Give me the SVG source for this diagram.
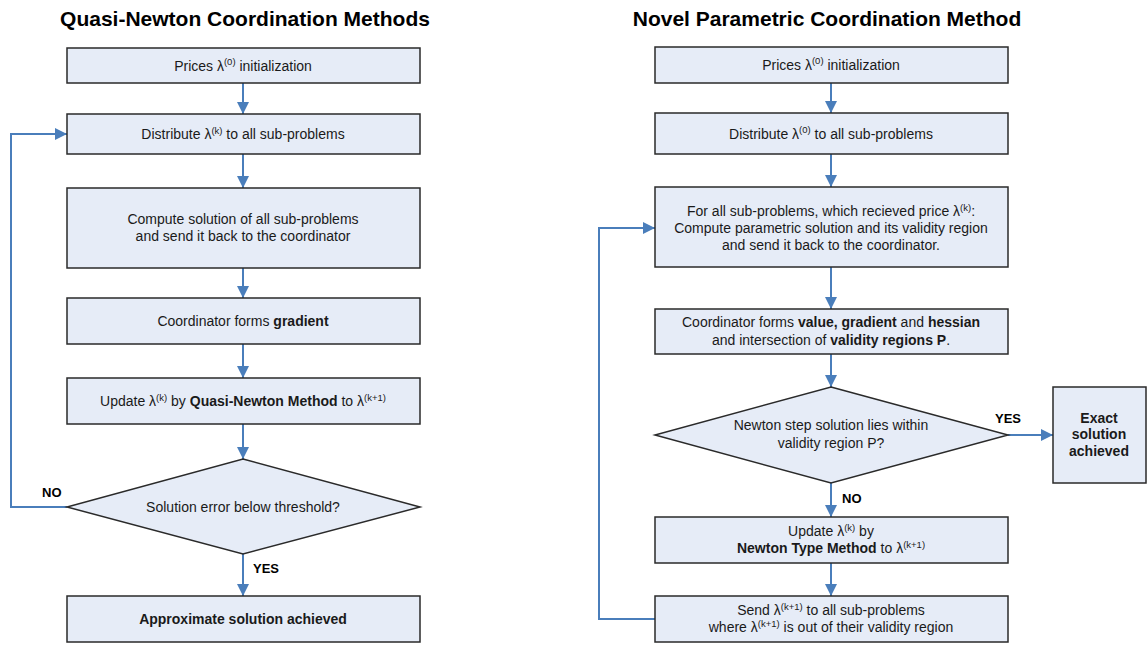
<svg xmlns="http://www.w3.org/2000/svg" width="1148" height="646" viewBox="0 0 1148 646">
<defs>
<style>
.box{fill:#e6ecf7;stroke:#2a2a2a;stroke-width:1.5}
.t{font-family:"Liberation Sans",Arial,sans-serif;font-size:14px;fill:#1a1a1a;text-anchor:middle}
.b{font-weight:bold}
.title{font-family:"Liberation Sans",Arial,sans-serif;font-size:21px;font-weight:bold;fill:#000;text-anchor:middle}
.lbl{font-family:"Liberation Sans",Arial,sans-serif;font-size:13px;font-weight:bold;fill:#000}
.ex{font-family:"Liberation Sans",Arial,sans-serif;font-size:14px;font-weight:bold;fill:#1a1a1a;text-anchor:middle}
.c{fill:none;stroke:#4a7ebb;stroke-width:2}
.sup{font-size:9.5px}
</style>
<marker id="ah" viewBox="0 0 10 10" refX="10" refY="5" markerWidth="6" markerHeight="6" markerUnits="strokeWidth" orient="auto">
<path d="M0,0 L10,5 L0,10 z" fill="#4a7ebb"/>
</marker>
</defs>
<rect width="1148" height="646" fill="#fff"/>

<text class="title" x="245" y="26">Quasi-Newton Coordination Methods</text>
<text class="title" x="827" y="26">Novel Parametric Coordination Method</text>

<g id="connectors">
<path class="c" d="M243,83 V114" marker-end="url(#ah)"/>
<path class="c" d="M243,154 V188" marker-end="url(#ah)"/>
<path class="c" d="M243,268 V298" marker-end="url(#ah)"/>
<path class="c" d="M243,344 V378" marker-end="url(#ah)"/>
<path class="c" d="M243,424 V459" marker-end="url(#ah)"/>
<path class="c" d="M243,554 V596" marker-end="url(#ah)"/>
<path class="c" d="M67,507 H11 V134 H67" marker-end="url(#ah)"/>
<path class="c" d="M831,83 V113" marker-end="url(#ah)"/>
<path class="c" d="M831,154 V187" marker-end="url(#ah)"/>
<path class="c" d="M831,267 V309" marker-end="url(#ah)"/>
<path class="c" d="M831,354 V387" marker-end="url(#ah)"/>
<path class="c" d="M831,483 V517" marker-end="url(#ah)"/>
<path class="c" d="M831,563 V596" marker-end="url(#ah)"/>
<path class="c" d="M1008,435 H1053" marker-end="url(#ah)"/>
<path class="c" d="M655,619 H599 V228 H655" marker-end="url(#ah)"/>
<text class="lbl" x="42" y="497">NO</text>
<text class="lbl" x="253" y="573">YES</text>
<text class="lbl" x="995" y="423">YES</text>
<text class="lbl" x="842" y="503">NO</text>
</g>

<g id="l1"><rect class="box" x="67" y="48" width="353" height="35"/>
<text class="t" x="243" y="70.5">Prices λ<tspan class="sup" dy="-5.5">(0)</tspan><tspan dy="5.5"> initialization</tspan></text></g>
<g id="l2"><rect class="box" x="67" y="114" width="353" height="40"/>
<text class="t" x="243" y="139">Distribute λ<tspan class="sup" dy="-5.5">(k)</tspan><tspan dy="5.5"> to all sub-problems</tspan></text></g>
<g id="l3"><rect class="box" x="67" y="188" width="353" height="80"/>
<text class="t" x="243" y="224">Compute solution of all sub-problems</text>
<text class="t" x="243" y="241">and send it back to the coordinator</text></g>
<g id="l4"><rect class="box" x="67" y="298" width="353" height="46"/>
<text class="t" x="243" y="326">Coordinator forms <tspan class="b">gradient</tspan></text></g>
<g id="l5"><rect class="box" x="67" y="378" width="353" height="46"/>
<text class="t" x="243" y="406">Update λ<tspan class="sup" dy="-5.5">(k)</tspan><tspan dy="5.5"> by </tspan><tspan class="b">Quasi-Newton Method</tspan> to λ<tspan class="sup" dy="-5.5">(k+1)</tspan></text></g>
<g id="l6"><path class="box" d="M243,459 L420,507 L243,554 L67,507 z"/>
<text class="t" x="243" y="512">Solution error below threshold?</text></g>
<g id="l7"><rect class="box" x="67" y="596" width="353" height="46"/>
<text class="t b" x="243" y="624">Approximate solution achieved</text></g>

<g id="r1"><rect class="box" x="655" y="47" width="353" height="36"/>
<text class="t" x="831" y="69.5">Prices λ<tspan class="sup" dy="-5.5">(0)</tspan><tspan dy="5.5"> initialization</tspan></text></g>
<g id="r2"><rect class="box" x="655" y="113" width="353" height="41"/>
<text class="t" x="831" y="138.5">Distribute λ<tspan class="sup" dy="-5.5">(0)</tspan><tspan dy="5.5"> to all sub-problems</tspan></text></g>
<g id="r3"><rect class="box" x="655" y="187" width="353" height="80"/>
<text class="t" x="831" y="216">For all sub-problems, which recieved price λ<tspan class="sup" dy="-5.5">(k)</tspan><tspan dy="5.5">:</tspan></text>
<text class="t" x="831" y="233">Compute parametric solution and its validity region</text>
<text class="t" x="831" y="250">and send it back to the coordinator.</text></g>
<g id="r4"><rect class="box" x="655" y="309" width="353" height="45"/>
<text class="t" x="831" y="327">Coordinator forms <tspan class="b">value, gradient</tspan> and <tspan class="b">hessian</tspan></text>
<text class="t" x="831" y="345">and intersection of <tspan class="b">validity regions P</tspan>.</text></g>
<g id="r5"><path class="box" d="M831,387 L1008,435 L831,483 L655,435 z"/>
<text class="t" x="831" y="430">Newton step solution lies within</text>
<text class="t" x="831" y="448">validity region P?</text></g>
<g id="r6"><rect class="box" x="1053" y="387" width="93" height="96"/>
<text class="ex" x="1099" y="423">Exact</text>
<text class="ex" x="1099" y="439">solution</text>
<text class="ex" x="1099" y="456">achieved</text></g>
<g id="r7"><rect class="box" x="655" y="517" width="353" height="46"/>
<text class="t" x="831" y="536">Update λ<tspan class="sup" dy="-5.5">(k)</tspan><tspan dy="5.5"> by</tspan></text>
<text class="t" x="831" y="553"><tspan class="b">Newton Type Method</tspan> to λ<tspan class="sup" dy="-5.5">(k+1)</tspan></text></g>
<g id="r8"><rect class="box" x="655" y="596" width="353" height="46"/>
<text class="t" x="831" y="615">Send λ<tspan class="sup" dy="-5.5">(k+1)</tspan><tspan dy="5.5"> to all sub-problems</tspan></text>
<text class="t" x="831" y="632">where λ<tspan class="sup" dy="-5.5">(k+1)</tspan><tspan dy="5.5"> is out of their validity region</tspan></text></g>
</svg>
